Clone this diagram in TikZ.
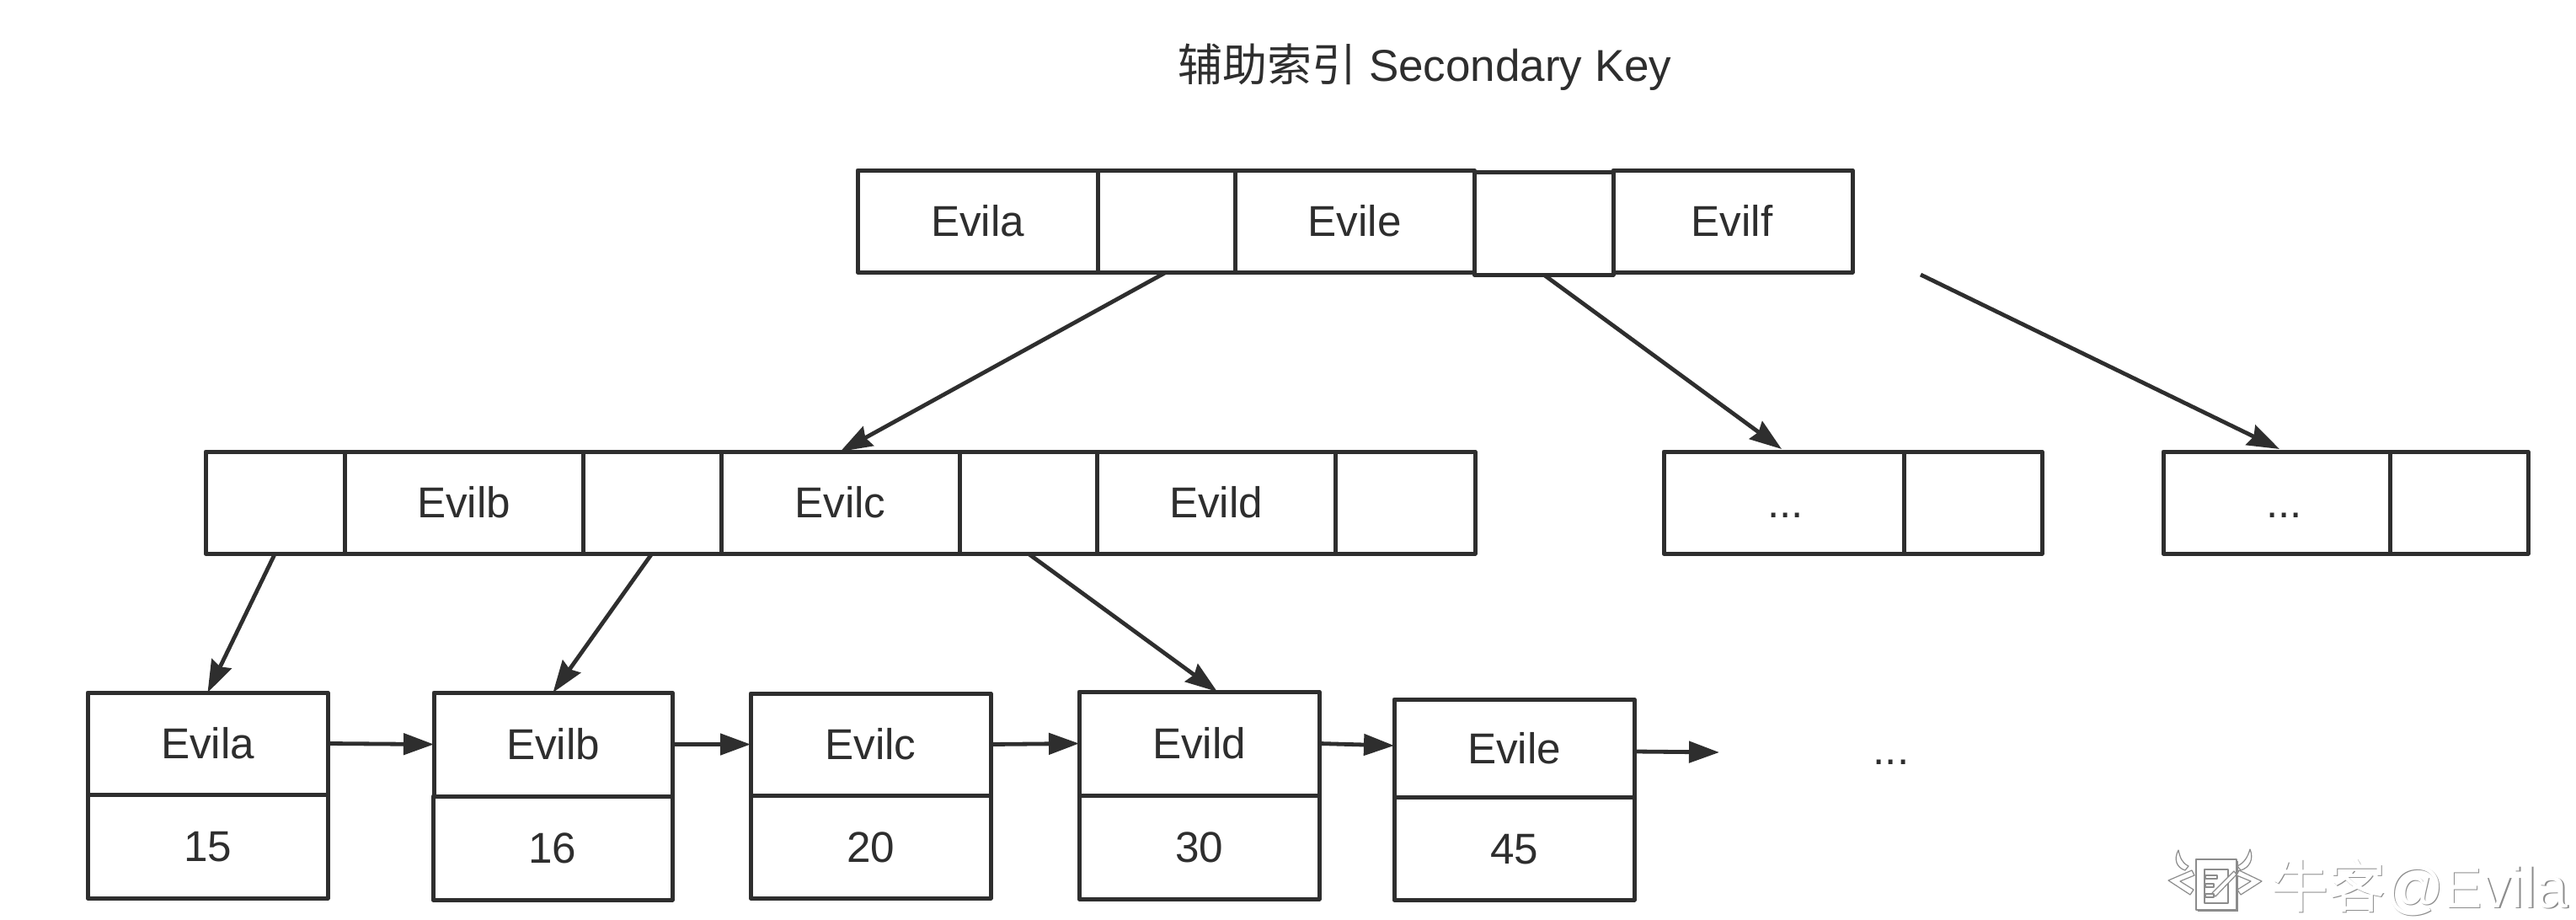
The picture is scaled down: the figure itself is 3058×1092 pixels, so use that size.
\documentclass[tikz,border=0pt]{standalone}
\usepackage{fontspec}
\setmainfont{Liberation Sans}
\newfontfamily\cjk{Noto Sans CJK SC}
\usetikzlibrary{arrows.meta,calc}
\definecolor{ink}{HTML}{2E2E2E}
\tikzset{
  cell/.style={draw=ink,line width=2.5pt,line join=round,outer sep=0pt,inner sep=0pt,text=ink,font=\fontsize{25.6}{30}\selectfont,text height=18.3pt,text depth=0pt},
  link/.style={draw=ink,line width=2.4pt,-{Stealth[length=19pt,width=13pt,inset=2pt]}},
  hlink/.style={draw=ink,line width=2.4pt,-{Triangle[length=18pt,width=12.5pt]}},
  dotslabel/.style={text=ink,inner sep=0pt,font=\fontsize{25.6}{30}\selectfont},
  mark shadow/.style={text=black!45,inner sep=0pt,anchor=west,font=\fontsize{34}{40}\selectfont},
  mark face/.style={text=white,inner sep=0pt,anchor=west,font=\fontsize{34}{40}\selectfont},
  icon/.style={draw=black!45,fill=white,line width=0.6pt,line join=round}
}
\newcommand{\cellbox}[6]{%
  \node[cell,minimum width={(#4-#2)*0.5pt},minimum height={(#5-#3)*0.5pt}] (#1) at ({(#2+#4)/2},{(#3+#5)/2}) {#6};}
\begin{document}
\begin{tikzpicture}[x=0.5pt,y=-0.5pt]
\useasboundingbox (0,0) rectangle (3058,1092);
\fill[white] (0,0) rectangle (3058,1092);
% title
\node[text=ink,inner sep=0pt,anchor=west,font=\fontsize{26.5}{30}\selectfont] (title) at (1398,80) {{\cjk 辅助索引} Secondary Key};
% root row
\cellbox{ra}{1018}{202}{1303}{323}{Evila}
\cellbox{rb}{1303}{202}{1466}{323}{}
\cellbox{rc}{1466}{202}{1750}{323}{Evile}
\cellbox{rd}{1750}{204}{1915}{326}{}
\cellbox{re}{1915}{202}{2199}{323}{\hspace*{-1pt}Evilf}
% middle row
\cellbox{ma}{244}{536}{409}{657}{}
\cellbox{mb}{409}{536}{692}{657}{Evilb}
\cellbox{mc}{692}{536}{856}{657}{}
\cellbox{md}{856}{536}{1139}{657}{Evilc}
\cellbox{me}{1139}{536}{1302}{657}{}
\cellbox{mf}{1302}{536}{1585}{657}{Evild}
\cellbox{mg}{1585}{536}{1751}{657}{}
\cellbox{na}{1975}{536}{2260}{657}{\hspace*{2pt}...}
\cellbox{nb}{2260}{536}{2424}{657}{}
\cellbox{oa}{2568}{536}{2837}{657}{\hspace*{9pt}...}
\cellbox{ob}{2837}{536}{3001}{657}{}
% leaves
\cellbox{la}{104}{822}{389}{943}{Evila}
\cellbox{lb}{104}{943}{389}{1066}{15}
\cellbox{lc}{515}{822}{798}{945}{Evilb}
\cellbox{ld}{514}{945}{798}{1068}{16}
\cellbox{le}{891}{823}{1176}{944}{Evilc}
\cellbox{lf}{891}{944}{1176}{1066}{20}
\cellbox{lg}{1281}{821}{1566}{944}{Evild}
\cellbox{lh}{1281}{944}{1566}{1067}{30}
\cellbox{li}{1655}{830}{1940}{946}{Evile}
\cellbox{lj}{1655}{946}{1940}{1068}{45}
\node[dotslabel] (more) at (2245,905) {...};
% free ends
\coordinate (fstart) at (2280,326);
\coordinate (ftip) at (2706,533);
\coordinate (ntip) at (2115,533);
\coordinate (gtip) at (1445,821);
\coordinate (hstart) at (1941,892);
\coordinate (htip) at (2041,893);
% connectors
\draw[link] (rb.south) -- (md.north);
\draw[link] (rd.south) -- (ntip);
\draw[link] (fstart) -- (ftip);
\draw[link] (ma.south) -- (la.north);
\draw[link] (mc.south) -- (lc.north);
\draw[link] (me.south) -- (gtip);
\draw[hlink] (la.east) -- (lc.west);
\draw[hlink] (lc.east) -- (le.west);
\draw[hlink] (le.east) -- (lg.west);
\draw[hlink] (lg.east) -- ($(li.west)+(0,-3)$);
\draw[hlink] (hstart) -- (htip);
% watermark
\path[draw=none,fill=black!45] (2609,1022) rectangle (2657,1082);
\path[icon] (2607,1020) rectangle (2655,1080);
\path[icon] (2617,1032) rectangle (2645,1072);
\path[icon] (2602,1033) -- (2574,1045) -- (2600,1062) -- (2604,1056) -- (2588,1046) -- (2605,1039) -- cycle;
\path[icon] (2658,1033) -- (2685,1046) -- (2660,1062) -- (2656,1056) -- (2672,1046) -- (2655,1039) -- cycle;
\path[icon] (2586,1009) .. controls (2580,1020) and (2584,1030) .. (2594,1033) -- (2598,1028) .. controls (2590,1024) and (2588,1018) .. (2586,1009) -- cycle;
\path[icon] (2671,1008) .. controls (2676,1020) and (2670,1030) .. (2660,1033) -- (2656,1028) .. controls (2664,1024) and (2668,1018) .. (2671,1008) -- cycle;
\path[icon] (2626,1060) -- (2652,1034) -- (2655,1038) -- (2630,1064) -- cycle;
\path[icon] (2618,1039) rectangle (2632,1043);
\path[icon] (2618,1049) rectangle (2628,1053);
\path[icon] (2618,1061) rectangle (2628,1065);
\node[mark shadow] (wms) at (2697.5,1054.5) {{\cjk 牛客}@Evila};
\node[mark face] (wm) at (2696,1053) {{\cjk 牛客}@Evila};
\end{tikzpicture}
\end{document}
